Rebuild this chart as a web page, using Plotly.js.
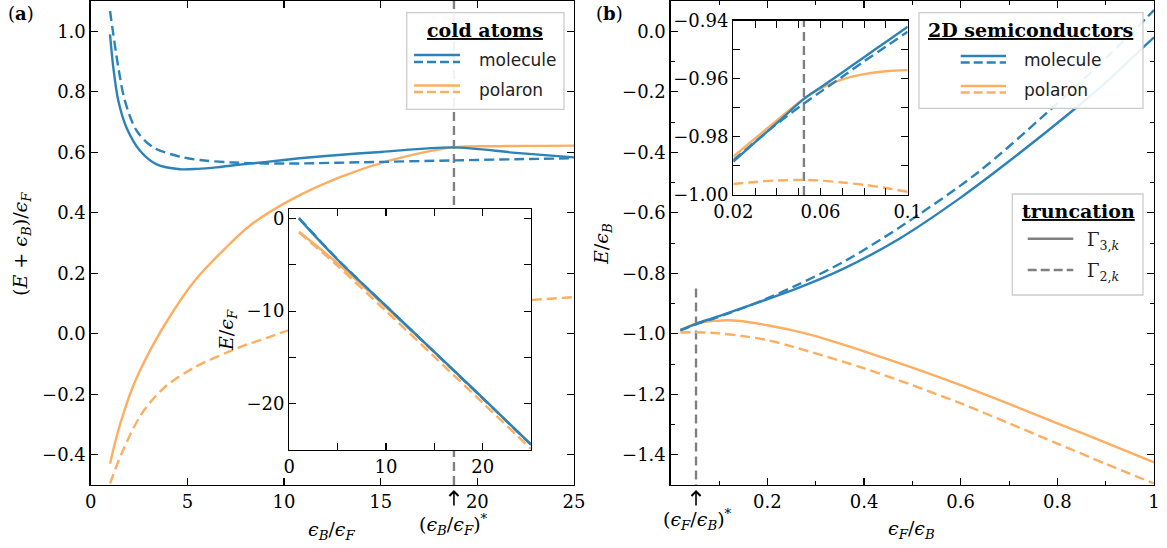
<!DOCTYPE html>
<html>
<head>
<meta charset="utf-8">
<script src="https://cdn.plot.ly/plotly-3.0.1.min.js"></script>
<style>html,body{margin:0;padding:0;background:#fff;}#chart{width:1167px;height:548px;}</style>
</head>
<body>
<div id="chart"></div>
<script>
// ---------- Panel (a): cold atoms, (E+eB)/eF vs eB/eF ----------
const aMolSolidX = [1.0, 1.17, 1.43, 1.86, 2.55, 3.41, 4.62, 5.5, 6.5, 7.4, 9.1, 10.8, 12.0, 15.0, 18.75, 22.0, 25.0];
const aMolSolidY = [0.99, 0.88, 0.77, 0.68, 0.605, 0.56, 0.544, 0.545, 0.55, 0.557, 0.568, 0.58, 0.587, 0.601, 0.616, 0.598, 0.583];
const aMolDashX = [1.0, 1.17, 1.43, 1.77, 2.38, 3.24, 4.79, 6.0, 7.38, 9.0, 10.83, 14.0, 18.75, 22.0, 25.0];
const aMolDashY = [1.067, 0.99, 0.88, 0.77, 0.671, 0.616, 0.583, 0.572, 0.566, 0.563, 0.563, 0.567, 0.573, 0.577, 0.58];
const aPolSolidX = [1.0, 1.2, 1.43, 1.7, 2.12, 2.6, 3.16, 4.19, 5.4, 7.0, 8.24, 10.3, 13.0, 15.5, 18.75, 21.0, 25.0];
const aPolSolidY = [-0.43, -0.375, -0.319, -0.262, -0.185, -0.115, -0.044, 0.067, 0.177, 0.285, 0.358, 0.441, 0.52, 0.573, 0.616, 0.62, 0.622];
const aPolDashX = [1.0, 1.6, 2.64, 3.84, 5.4, 7.12, 8.24, 9.19, 10.27, 13.0, 16.0, 19.0, 22.8, 25.0];
const aPolDashY = [-0.495, -0.396, -0.264, -0.176, -0.11, -0.06, -0.032, -0.012, 0.012, 0.055, 0.083, 0.1, 0.112, 0.121];
const aCrit = 18.79;

// inset (a): E/eF vs eB/eF
const aInX = [1, 5, 10, 15, 20, 25];
const aInMolSolid = [-0.01, -4.45, -9.43, -14.4, -19.38, -24.42];
const aInMolDash = [0.07, -4.42, -9.44, -14.43, -19.42, -24.42];
const aInPolSolid = [-1.43, -4.85, -9.58, -14.42, -19.38, -24.38];
const aInPolDash = [-1.5, -5.12, -10.0, -14.92, -19.9, -24.88];

// ---------- Panel (b): 2D semiconductors, E/eB vs eF/eB ----------
const bMolSolidX = [0.02, 0.0524, 0.1, 0.18, 0.26, 0.36, 0.474, 0.6, 0.7, 0.832, 0.9, 0.977, 1.0];
const bMolSolidY = [-0.989, -0.967, -0.942, -0.897, -0.851, -0.783, -0.685, -0.55, -0.43, -0.262, -0.17, -0.054, -0.02];
const bMolDashX = [0.02, 0.0524, 0.1, 0.18, 0.26, 0.36, 0.474, 0.633, 0.778, 0.9, 0.985, 1.0];
const bMolDashY = [-0.988, -0.9685, -0.9438, -0.896, -0.84, -0.76, -0.648, -0.47, -0.27, -0.09, 0.045, 0.07];
const bPolSolidX = [0.02, 0.0524, 0.08, 0.1, 0.12, 0.16, 0.2, 0.25, 0.3, 0.4, 0.5, 0.6, 0.7, 0.8, 0.9, 1.0];
const bPolSolidY = [-0.9868, -0.9669, -0.9587, -0.957, -0.9555, -0.961, -0.972, -0.988, -1.008, -1.058, -1.112, -1.17, -1.232, -1.296, -1.36, -1.425];
const bPolDashX = [0.02, 0.05, 0.1, 0.15, 0.2, 0.25, 0.3, 0.4, 0.5, 0.6, 0.7, 0.8, 0.9, 1.0];
const bPolDashY = [-0.996, -0.9948, -0.9989, -1.008, -1.021, -1.042, -1.065, -1.114, -1.17, -1.23, -1.296, -1.363, -1.43, -1.495];
const bCrit = 0.0524;

// inset (b)
const bInX = [0.02, 0.03, 0.04, 0.0524, 0.06, 0.07, 0.08, 0.09, 0.1];
const bInMolSolid = [-0.9885, -0.9818, -0.9752, -0.9669, -0.963, -0.9578, -0.9526, -0.9473, -0.9421];
const bInMolDash = [-0.988, -0.9817, -0.9755, -0.9685, -0.9645, -0.9593, -0.954, -0.9489, -0.9438];
const bInPolSolid = [-0.9868, -0.9805, -0.9743, -0.9669, -0.9633, -0.9602, -0.9584, -0.9574, -0.957];
const bInPolDash = [-0.9962, -0.9955, -0.995, -0.9948, -0.995, -0.9957, -0.9965, -0.9976, -0.9989];

// tick labels
const bXTicks = [0.2, 0.4, 0.6, 0.8, 1.0];
const bXTickText = ['0.2', '0.4', '0.6', '0.8', '1'];
const bInXTicks = [0.02, 0.06, 0.1];
const bInXTickText = ['0.02', '0.06', '0.1'];

// ---------- styling ----------
const BLUE = '#2b83ba', ORANGE = '#fdae61', GRAY = '#808080';
const LW = 2.4, DASH = '10px,5px';
const W = 1167, T = 1, B = 63, PH = 548 - T - B;
const PX = v => v / W;
const PY = v => (548 - B - v) / PH;

function tr(x, y, xa, ya, color, dashed, width) {
  return {x: x, y: y, xaxis: xa, yaxis: ya, type: 'scatter', mode: 'lines',
    line: {color: color, width: width || LW, dash: dashed ? DASH : 'solid', shape: 'spline', smoothing: 0.9}, hoverinfo: 'skip'};
}
const vline = (xv, y0, y1, xa, ya) => ({x: [xv, xv], y: [y0, y1], xaxis: xa, yaxis: ya, type: 'scatter', mode: 'lines',
  line: {color: GRAY, width: 2.4, dash: '9px,5px'}, hoverinfo: 'skip'});

const data = [
  vline(aCrit, -0.5, 1.1, 'x', 'y'),
  tr(aPolDashX, aPolDashY, 'x', 'y', ORANGE, true),
  tr(aPolSolidX, aPolSolidY, 'x', 'y', ORANGE, false),
  tr(aMolDashX, aMolDashY, 'x', 'y', BLUE, true),
  tr(aMolSolidX, aMolSolidY, 'x', 'y', BLUE, false),

  vline(bCrit, -0.85, -1.5, 'x2', 'y2'),
  tr(bPolDashX, bPolDashY, 'x2', 'y2', ORANGE, true),
  tr(bPolSolidX, bPolSolidY, 'x2', 'y2', ORANGE, false),
  tr(bMolDashX, bMolDashY, 'x2', 'y2', BLUE, true),
  tr(bMolSolidX, bMolSolidY, 'x2', 'y2', BLUE, false),

  tr(aInX, aInPolDash, 'x3', 'y3', ORANGE, true),
  tr(aInX, aInPolSolid, 'x3', 'y3', ORANGE, false),
  tr(aInX, aInMolDash, 'x3', 'y3', BLUE, true),
  tr(aInX, aInMolSolid, 'x3', 'y3', BLUE, false),

  vline(bCrit, -1.0, -0.94, 'x4', 'y4'),
  tr(bInX, bInPolDash, 'x4', 'y4', ORANGE, true),
  tr(bInX, bInPolSolid, 'x4', 'y4', ORANGE, false),
  tr(bInX, bInMolDash, 'x4', 'y4', BLUE, true),
  tr(bInX, bInMolSolid, 'x4', 'y4', BLUE, false)
];

const TF = {family: 'DejaVu Serif', size: 18, color: '#000'};
function ax(extra) {
  return Object.assign({showline: true, linecolor: '#000', linewidth: 1.3, mirror: 'ticks',
    ticks: 'inside', ticklen: 7, tickwidth: 1.1, tickcolor: '#000', showgrid: false, zeroline: false,
    tickfont: TF, fixedrange: true}, extra);
}
const minor = extra => Object.assign({ticks: 'inside', ticklen: 4, tickwidth: 1, tickcolor: '#000', showgrid: false}, extra);

const layout = {
  width: 1167, height: 548,
  margin: {l: 0, r: 0, t: T, b: B},
  paper_bgcolor: '#fff', plot_bgcolor: '#fff',
  showlegend: false,
  font: {family: 'DejaVu Serif', size: 18, color: '#000'},
  xaxis: ax({domain: [PX(90.7), PX(574)], range: [0, 25], anchor: 'y', tick0: 0, dtick: 5}),
  yaxis: ax({domain: [0, 1], range: [-0.5, 1.1], anchor: 'x', tick0: 0, dtick: 0.2, tickformat: '.1f'}),
  xaxis2: ax({domain: [PX(670.7), PX(1154)], range: [0, 1], anchor: 'y2', tickmode: 'array', tickvals: bXTicks, ticktext: bXTickText,
    minor: minor({tickmode: 'array', tickvals: [0.1, 0.3, 0.5, 0.7, 0.9]})}),
  yaxis2: ax({domain: [0, 1], range: [-1.5, 0.1], anchor: 'x2', tick0: 0, dtick: 0.2, tickformat: '.1f',
    minor: minor({dtick: 0.1})}),
  xaxis3: ax({domain: [PX(289.3), PX(531)], range: [0, 25], anchor: 'y3', tick0: 0, dtick: 10, minor: minor({dtick: 5, ticklen: 7})}),
  yaxis3: ax({domain: [PY(450), PY(209.3)], range: [-25, 1], anchor: 'x3', tick0: 0, dtick: 10, minor: minor({dtick: 5, ticklen: 7})}),
  xaxis4: ax({domain: [PX(733.3), PX(907.7)], range: [0.02, 0.1], anchor: 'y4', tickmode: 'array', tickvals: bInXTicks, ticktext: bInXTickText,
    minor: minor({tickmode: 'array', tickvals: [0.03, 0.04, 0.05, 0.07, 0.08, 0.09], ticklen: 7})}),
  yaxis4: ax({domain: [PY(195), PY(20.7)], range: [-1.0, -0.94], anchor: 'x4', tick0: -1.0, dtick: 0.02, tickformat: '.2f',
    minor: minor({dtick: 0.01, ticklen: 7})}),
  shapes: [],
  annotations: []
};

// legend boxes and handles (paper coordinates)
function box(x0, y0, x1, y1) {
  layout.shapes.push({type: 'rect', xref: 'paper', yref: 'paper', x0: PX(x0), x1: PX(x1), y0: PY(y1), y1: PY(y0),
    fillcolor: 'rgba(255,255,255,0.9)', line: {color: '#cccccc', width: 1.3}, layer: 'above'});
}
function hline(x0, x1, y, color, dashed) {
  layout.shapes.push({type: 'line', xref: 'paper', yref: 'paper', x0: PX(x0), x1: PX(x1), y0: PY(y), y1: PY(y),
    line: {color: color, width: 2.6, dash: dashed ? '9px,4px' : 'solid'}, layer: 'above'});
}
function txt(text, x, y, opts) {
  layout.annotations.push(Object.assign({text: text, x: PX(x), y: PY(y), xref: 'paper', yref: 'paper', showarrow: false,
    xanchor: 'center', yanchor: 'middle', font: {family: 'DejaVu Serif', size: 18, color: '#000'}}, opts || {}));
}
const SANS = {family: 'DejaVu Sans', size: 17, color: '#222'};
const BOLD = {family: 'DejaVu Serif', size: 19, color: '#000'};
const MATH = {family: 'DejaVu Serif', size: 19, color: '#000'};

// legend (a)
box(406.7, 12.7, 564, 109.3);
txt('<b><u>cold atoms</u></b>', 485, 30, {font: BOLD});
hline(414, 460, 55, BLUE, false); hline(414, 460, 62, BLUE, true);
hline(414, 460, 85.5, ORANGE, false); hline(414, 460, 92, ORANGE, true);
txt('molecule', 476.7, 60, {xanchor: 'left', font: SANS});
txt('polaron', 476.7, 90, {xanchor: 'left', font: SANS});

// legend (b)
box(919, 12.7, 1143, 108.3);
txt('<b><u>2D semiconductors</u></b>', 1030, 30, {font: BOLD});
hline(960.7, 1006, 56, BLUE, false); hline(960.7, 1006, 62.5, BLUE, true);
hline(960.7, 1006, 86, ORANGE, false); hline(960.7, 1006, 92.5, ORANGE, true);
txt('molecule', 1022, 60, {xanchor: 'left', font: SANS});
txt('polaron', 1022, 90, {xanchor: 'left', font: SANS});

// truncation legend
box(1012.3, 194, 1143, 295);
txt('<b><u>truncation</u></b>', 1078, 211, {font: BOLD});
hline(1027.7, 1073.3, 238.7, GRAY, false);
hline(1027.7, 1073.3, 270, GRAY, true);
txt('Γ<sub>3,<i>k</i></sub>', 1085, 241, {xanchor: 'left', font: {family: 'DejaVu Serif', size: 18, color: '#222'}});
txt('Γ<sub>2,<i>k</i></sub>', 1085, 272, {xanchor: 'left', font: {family: 'DejaVu Serif', size: 18, color: '#222'}});

// axis titles
txt('(<i>E</i> + <i>ϵ</i><sub><i>B</i></sub>)/<i>ϵ</i><sub><i>F</i></sub>', 22, 244, {textangle: -90, font: MATH});
txt('<i>E</i>/<i>ϵ</i><sub><i>B</i></sub>', 603, 244, {textangle: -90, font: MATH});
txt('<i>E</i>/<i>ϵ</i><sub><i>F</i></sub>', 227, 330, {textangle: -90, font: MATH});
txt('<i>ϵ</i><sub><i>B</i></sub>/<i>ϵ</i><sub><i>F</i></sub>', 332, 530, {font: MATH});
txt('(<i>ϵ</i><sub><i>B</i></sub>/<i>ϵ</i><sub><i>F</i></sub>)<sup>*</sup>', 453, 524, {font: MATH});
txt('<i>ϵ</i><sub><i>F</i></sub>/<i>ϵ</i><sub><i>B</i></sub>', 912, 529, {font: MATH});
txt('(<i>ϵ</i><sub><i>F</i></sub>/<i>ϵ</i><sub><i>B</i></sub>)<sup>*</sup>', 697, 519, {font: MATH});

// panel labels
txt('(<b>a</b>)', 21, 13, {font: {family: 'DejaVu Serif', size: 18, color: '#000'}});
txt('(<b>b</b>)', 609, 13, {font: {family: 'DejaVu Serif', size: 18, color: '#000'}});

// arrows marking critical values
layout.annotations.push({x: aCrit, xref: 'x', y: PY(490), yref: 'paper', ax: 0, ay: 17, text: '', showarrow: true,
  arrowhead: 4, arrowsize: 1.1, arrowwidth: 1.6, arrowcolor: '#000', standoff: 0});
layout.annotations.push({x: bCrit, xref: 'x2', y: PY(490), yref: 'paper', ax: 0, ay: 17, text: '', showarrow: true,
  arrowhead: 4, arrowsize: 1.1, arrowwidth: 1.6, arrowcolor: '#000', standoff: 0});

Plotly.newPlot('chart', data, layout, {staticPlot: true, displayModeBar: false});
</script>
</body>
</html>
